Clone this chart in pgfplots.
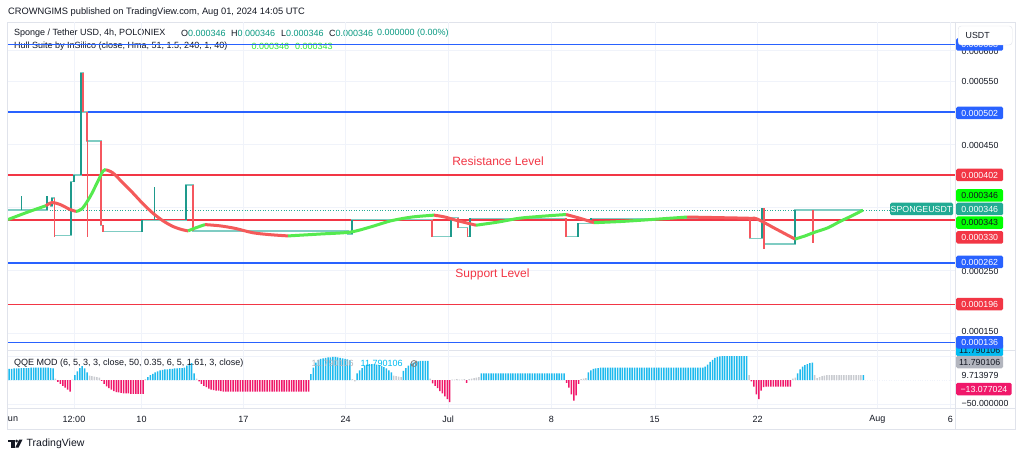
\documentclass[border=0pt]{standalone}
\usepackage{pgfplots}
\pgfplotsset{compat=1.18}
\usepackage{fontspec}
\setmainfont{Liberation Sans}

\definecolor{tvtext}{HTML}{131722}
\definecolor{tvgrid}{HTML}{F0F3FA}
\definecolor{tvframe}{HTML}{E0E3EB}
\definecolor{tvblue}{HTML}{2962FF}
\definecolor{tvred}{HTML}{F23645}
\definecolor{tvteal}{HTML}{22AB94}
\definecolor{legval}{HTML}{089981}
\definecolor{steplight}{HTML}{7FCCC3}
\definecolor{stepdark}{HTML}{1E9A8C}
\definecolor{stepred}{HTML}{F5575F}
\definecolor{hullgreen}{HTML}{55EA4F}
\definecolor{hullred}{HTML}{F45A5A}
\definecolor{lime}{HTML}{00FF00}
\definecolor{limetext}{HTML}{33E633}
\definecolor{qqeblue}{HTML}{1FBAEE}
\definecolor{qqegray}{HTML}{C9CBD0}
\definecolor{qqered}{HTML}{F0186A}
\definecolor{qqecyan}{HTML}{00BCF2}
\definecolor{scalegray}{HTML}{B2B5BE}

\newcommand{\fs}[1]{\fontsize{#1}{#1}\selectfont}
% box on the price scale: y, fill, text colour, text
\newcommand{\pricebox}[4]{\node[fill=#2, text=#3, inner sep=0pt, minimum width=47pt,
  minimum height=12.5pt, rounded corners=1.5pt, anchor=west, font=\fs{8.8}] at (956,#1) {#4};}
\newcommand{\pricetext}[2]{\node[text=tvtext, inner sep=0pt, anchor=west, font=\fs{8.8}] at (961.5,#1) {#2};}

\pgfplotsset{
  tvpane/.style={
    scale only axis, anchor=south west,
    axis line style={draw=none}, major tick length=0pt,
    xticklabels={}, yticklabels={}, scaled ticks=false,
    tick label style={inner sep=0pt},
    grid=major, major grid style={tvgrid, line width=0.9pt},
    clip=true,
  },
  level/.style={#1, line width=1.6pt},
}

\begin{document}
\begin{tikzpicture}[x=1pt,y=1pt]
\path[use as bounding box] (0,0) rectangle (1024,458);
\fill[white] (0,0) rectangle (1024,458);

% header
\node[anchor=west, inner sep=0pt, text=tvtext, font=\fs{9.3}] at (8,446) {CROWNGIMS published on TradingView.com, Aug 01, 2024 14:05 UTC};

% frame
\draw[tvframe, line width=0.8pt] (7.5,436) rectangle (1015,28.5);
\draw[tvframe, line width=0.8pt] (955.5,436) -- (955.5,28.5);
\draw[tvframe, line width=0.8pt] (7.5,108) -- (1015,108);
\draw[tvframe, line width=0.8pt] (7.5,50) -- (1015,50);

% legend of the price pane
\begin{scope}[every node/.style={anchor=west, inner sep=0pt, text=tvtext, font=\fs{9}}]
\node at (14,424.5) {Sponge / Tether USD, 4h, POLONIEX};
\node at (181,424.5) {O\textcolor{legval}{0.000346}};
\node at (231,424.5) {H\textcolor{legval}{0.000346}};
\node at (281,424.5) {L\textcolor{legval}{0.000346}};
\node at (329,424.5) {C\textcolor{legval}{0.000346}};
\node at (377,424.5) {\textcolor{legval}{0.000000 (0.00\%)}};
\node at (14,411.5) {Hull Suite by InSilico (close, Hma, 51, 1.5, 240, 1, 40)};
\node at (251.5,411.5) {\textcolor{limetext}{0.000346}};
\node at (295,411.5) {\textcolor{limetext}{0.000343}};
\end{scope}

% price pane
\begin{axis}[tvpane, at={(8pt,108pt)}, width=947pt, height=328pt,
  xmin=8, xmax=955, ymin=0.0001238, ymax=0.0006448,
  xtick={74,141,243,345,448,551,655,757,877,950},
  ytick={0.00015,0.00025,0.00035,0.00045,0.00055,0.0006},
  unbounded coords=jump]
% horizontal levels
\addplot[level=tvblue] coordinates {(8,0.000609) (955,0.000609)};
\addplot[level=tvblue] coordinates {(8,0.000502) (955,0.000502)};
\addplot[level=tvblue] coordinates {(8,0.000262) (955,0.000262)};
\addplot[level=tvblue] coordinates {(8,0.000136) (955,0.000136)};
\addplot[level=tvred] coordinates {(8,0.000402) (955,0.000402)};
\addplot[level=tvred] coordinates {(8,0.000330) (955,0.000330)};
\addplot[level=tvred] coordinates {(8,0.000196) (955,0.000196)};
% last price
\addplot[tvteal, line width=0.6pt, dotted] coordinates {(8,0.000346) (890,0.000346)};
% price as steps
\addplot[const plot, steplight, line width=1.3pt] coordinates {
(8,0.000346) (47,0.000358) (50.5,0.000352) (52,0.000365) (54.5,0.000306)
(71,0.000391) (74,0.000402) (81,0.000564) (83,0.000502) (87,0.000456)
(101,0.000322) (103,0.000312) (142,0.000330) (186,0.000386) (193,0.000313)
(348,0.000308) (352,0.000331) (432,0.000304) (451,0.000334) (458,0.000318)
(467.5,0.000304) (470,0.000333) (566,0.000304) (578,0.000325) (591,0.000333)
(750,0.000301) (762,0.000349) (764,0.000292) (795,0.000346) (863,0.000346)};
% thin wicks
\addplot[stepdark, line width=0.6pt] coordinates {
(21,0.000346) (21,0.000368) (21,nan) (154,0.000330) (154,0.000383)};
\addplot[stepred, line width=0.6pt] coordinates {(87,0.000502) (87,0.000304)};
% rising moves
\addplot[stepdark, line width=1.8pt] coordinates {
(47,0.000346) (47,0.000368) (47,nan)
(52,0.000352) (52,0.000365) (52,nan)
(71,0.000306) (71,0.000391) (71,nan)
(74,0.000391) (74,0.000402) (74,nan)
(81,0.000402) (81,0.000564) (81,nan)
(142,0.000312) (142,0.000330) (142,nan)
(186,0.000330) (186,0.000386) (186,nan)
(352,0.000308) (352,0.000331) (352,nan)
(451,0.000304) (451,0.000334) (451,nan)
(470,0.000304) (470,0.000333) (470,nan)
(578,0.000304) (578,0.000325) (578,nan)
(591,0.000325) (591,0.000333) (591,nan)
(762,0.000301) (762,0.000349) (762,nan)
(795,0.000292) (795,0.000346)};
% falling moves
\addplot[stepred, line width=1.8pt] coordinates {
(50.5,0.000358) (50.5,0.000352) (50.5,nan)
(54.5,0.000365) (54.5,0.000304) (54.5,nan)
(83,0.000564) (83,0.000502) (83,nan)
(87,0.000502) (87,0.000456) (87,nan)
(101,0.000456) (101,0.000322) (101,nan)
(103,0.000322) (103,0.000312) (103,nan)
(193,0.000386) (193,0.000313) (193,nan)
(348,0.000313) (348,0.000308) (348,nan)
(432,0.000331) (432,0.000304) (432,nan)
(458,0.000334) (458,0.000318) (458,nan)
(467.5,0.000318) (467.5,0.000304) (467.5,nan)
(566,0.000333) (566,0.000304) (566,nan)
(750,0.000333) (750,0.000301) (750,nan)
(764,0.000349) (764,0.000285) (764,nan)
(813,0.000346) (813,0.000293)};
% Hull suite
\pgfplotsset{hullg/.style={hullgreen, line width=3pt, smooth, tension=0.5},
             hullr/.style={hullred, line width=3pt, smooth, tension=0.5}}
\addplot[hullg] coordinates {(8,0.000331) (28,0.000343) (46,0.000353)};
\addplot[hullr] coordinates {(46,0.000353) (52,0.000358) (60,0.000355) (70,0.000347) (76,0.000344)};
\addplot[hullg] coordinates {(76,0.000344) (82,0.000348) (90,0.000367) (97,0.000389) (103,0.000408) (106,0.000410)};
\addplot[hullr] coordinates {(106,0.000410) (113,0.000405) (123,0.000389) (133,0.000373) (143,0.000356)
  (153,0.000341) (163,0.000329) (173,0.000320) (182,0.000315) (188,0.000313)};
\addplot[hullg] coordinates {(188,0.000313) (196,0.000318) (205,0.000323)};
\addplot[hullr] coordinates {(205,0.000323) (220,0.000321) (235,0.000317) (253,0.000310) (270,0.000307) (288,0.000305)};
\addplot[hullg] coordinates {(288,0.000305) (320,0.000308) (350,0.000311) (370,0.000319) (391,0.000329) (412,0.000335) (434,0.000338)};
\addplot[hullr] coordinates {(434,0.000338) (445,0.000335) (458,0.000329) (476,0.000322)};
\addplot[hullg] coordinates {(476,0.000322) (498,0.000327) (519,0.000333) (540,0.000336) (566,0.000339)};
\addplot[hullr] coordinates {(566,0.000339) (580,0.000333) (594,0.000326)};
\addplot[hullg] coordinates {(594,0.000326) (622,0.000328) (651,0.000331) (687,0.000335)};
\addplot[hullr] coordinates {(687,0.000335) (720,0.000334) (750,0.000333) (757,0.000332) (776,0.000316) (795,0.000300)};
\addplot[hullg] coordinates {(795,0.000300) (805,0.000305) (815,0.000311) (828,0.000318) (840,0.000328) (852,0.000337) (863,0.000346)};
\end{axis}

\node[text=tvred, font=\fs{12}] at (498,297) {Resistance Level};
\node[text=tvred, font=\fs{12}] at (492.5,184) {Support Level};

% QQE MOD pane (x = bar number)
\begin{axis}[tvpane, at={(8pt,50pt)}, width=947pt, height=58pt,
  xmin=-0.5, xmax=388.65, ymin=-58.3, ymax=62.5,
  xtick={26.6,54.15,96.07,137.98,180.31,222.63,265.37,307.28,356.6,386.6},
  ytick={-50,50},
  extra y ticks={0}, extra y tick labels={},
  extra y tick style={grid style={qqegray, dotted, line width=0.5pt}}]
\addplot[ybar, bar width=1.5pt, bar shift=0pt, fill=qqeblue, draw=none] coordinates {
(0,23)(1,23)(2,24)(3,24)(4,24)(5,25)(6,25)(7,25)(8,25)(9,26)(10,26)(11,26)(12,26)(13,26)(14,26)(15,26)(16,26)(17,25)(18,24)
(27,10)(28,18)(29,25)(30,29)(31,24)(32,16)
(57,6)(58,10)(59,13)(60,16)(61,18)(62,20)(63,21)(64,22)(65,22)(66,23)(67,23)(68,24)(69,24)(70,25)(71,25)(72,26)(73,30)(74,34)(75,35)(76,14)
(124,12)(125,26)(126,36)(127,42)(128,44)(129,45)(130,46)(131,47)(132,47)(133,48)(134,48)(135,47)(136,46)(137,45)(138,44)(139,43)(140,41)
(143,14)(144,20)(145,25)(146,29)(147,32)(148,33)(149,33)(150,33)(151,32)(152,31)(153,29)(154,27)(155,24)(156,20)(157,16)
(162,19)(163,25)(164,30)(165,34)(166,36)(167,38)(168,39)(169,40)(170,40)(171,40)(172,40)
(194,14)(195,14)(196,14)(197,14)(198,14)(199,14)(200,14)(201,14)(202,14)(203,14)(204,14)(205,14)
(206,14)(207,14)(208,14)(209,14)(210,14)(211,14)(212,14)(213,14)(214,14)(215,14)(216,14)(217,14)
(218,14)(219,14)(220,14)(221,14)(222,14)(223,14)(224,14)(225,14)(226,14)(227,14)(228,14)
(238,16)(239,20)(240,23)(241,24)(242,25)(243,26)(244,26)(245,26)(246,26)(247,26)(248,26)(249,26)
(250,26)(251,26)(252,26)(253,26)(254,26)(255,26)(256,26)(257,26)(258,26)(259,26)(260,26)(261,26)
(262,26)(263,26)(264,26)(265,26)(266,26)(267,26)(268,26)(269,26)(270,26)(271,26)(272,26)(273,26)
(274,26)(275,26)(276,26)(277,26)(278,26)(279,26)(280,26)(281,26)(282,26)(283,26)(284,26)(285,26)
(286,28)(287,32)(288,38)(289,42)(290,46)(291,48)(292,49)(293,50)(294,50)(295,50)(296,50)(297,50)
(298,50)(299,50)(300,50)(301,50)(302,50)(303,50)
(324,14)(325,22)(326,28)(327,31)(328,33)(329,35)(330,36)
(351,10)};
\addplot[ybar, bar width=1.5pt, bar shift=0pt, fill=qqegray, draw=none] coordinates {
(19,3)(26,1)(33,9)(34,8)(35,7)(36,6)(37,5)(56,2)(77,3)(141,2)(142,-3)
(158,9)(159,8)(160,7)(161,6)(173,3)(182,1)(183,1)(184,2)(185,1)(186,1)(187,2)
(189,2)(190,3)(191,4)(192,5)(193,6)(235,2)(236,3)(237,4)(304,10)(322,3)(323,5)
(331,10)(332,4)(333,6)(334,8)(335,9)(336,10)(337,10)(338,10)(339,10)(340,10)(341,10)
(342,10)(343,10)(344,10)(345,10)(346,10)(347,10)(348,10)(349,10)(350,10)};
\addplot[ybar, bar width=1.5pt, bar shift=0pt, fill=qqered, draw=none] coordinates {
(20,-4)(21,-8)(22,-12)(23,-16)(24,-20)(25,-24)
(38,-2)(39,-8)(40,-13)(41,-17)(42,-20)(43,-23)(44,-25)(45,-26)(46,-27)(47,-28)(48,-28)(49,-28)
(50,-29)(51,-29)(52,-29)(53,-29)(54,-29)(55,-29)
(78,-3)(79,-8)(80,-12)(81,-15)(82,-18)(83,-20)(84,-21)(85,-22)(86,-22)(87,-23)
(88,-24)(89,-24)(90,-24)(91,-24)(92,-24)(93,-24)(94,-24)(95,-24)(96,-24)(97,-24)(98,-24)(99,-24)
(100,-24)(101,-24)(102,-24)(103,-24)(104,-24)(105,-24)(106,-24)(107,-24)(108,-24)(109,-24)(110,-24)(111,-24)
(112,-24)(113,-24)(114,-24)(115,-24)(116,-24)(117,-24)(118,-24)(119,-24)(120,-24)(121,-24)(122,-24)(123,-24)
(174,-7)(175,-12)(176,-17)(177,-23)(178,-28)(179,-34)(180,-40)(181,-46)
(188,-6)
(229,-6)(230,-16)(231,-30)(232,-43)(233,-32)(234,-8)
(305,-3)(306,-14)(307,-30)(308,-40)(309,-22)(310,-15)(311,-14)(312,-14)(313,-14)(314,-14)(315,-14)
(316,-14)(317,-14)(318,-14)(319,-14)(320,-14)(321,-14)};
\end{axis}

% legend of the QQE pane
\node[anchor=west, inner sep=0pt, text=tvtext, font=\fs{9}] at (14,94.5) {QQE MOD (6, 5, 3, 3, close, 50, 0.35, 6, 5, 1.61, 3, close)};
\node[anchor=west, inner sep=0pt, text=scalegray, font=\fs{9}] at (311.5,94.5) {11.790106};
\node[anchor=west, inner sep=0pt, text=qqecyan, font=\fs{9}] at (360.5,94.5) {11.790106};
\draw[gray, line width=0.8pt] (414,94.5) circle (3);
\draw[gray, line width=0.8pt] (411.5,92) -- (416.5,97);

% price scale
\pricetext{406.5}{0.000600}
\pricebox{413.5}{tvblue}{white}{0.000608}
\node[draw=tvframe, fill=white, rounded corners=3pt, minimum width=54pt, minimum height=19pt,
  anchor=west, inner sep=0pt] at (958,422.5) {};
\node[anchor=west, inner sep=0pt, text=tvtext, font=\fs{8.8}] at (965.5,423) {USDT};
\pricetext{376.3}{0.000550}
\pricebox{345}{tvblue}{white}{0.000502}
\pricetext{313}{0.000450}
\pricebox{283}{tvred}{white}{0.000402}
\pricebox{262.5}{lime}{tvtext}{0.000346}
\pricebox{249}{tvteal}{white}{0.000346}
\pricebox{235.3}{lime}{tvtext}{0.000343}
\pricebox{220.7}{tvred}{white}{0.000330}
\pricetext{187}{0.000250}
\pricebox{196}{tvblue}{white}{0.000262}
\pricebox{154}{tvred}{white}{0.000196}
\pricetext{126.5}{0.000150}
\pricebox{108}{qqecyan}{tvtext}{11.790106}
\pricebox{115.7}{tvblue}{white}{0.000136}
\pricebox{96}{scalegray}{tvtext}{11.790106}
\pricetext{82.7}{9.713979}
\node[fill=qqered, text=white, inner sep=0pt, minimum width=55.5pt, minimum height=12.5pt,
  rounded corners=1.5pt, anchor=west, font=\fs{8.8}] at (956,69) {−13.077024};
\pricetext{54.7}{−50.000000}
\node[fill=tvteal, text=white, inner sep=0pt, minimum width=63pt, minimum height=12.5pt,
  rounded corners=1.5pt, font=\fs{8.8}] at (921.5,249) {SPONGEUSDT};

% time scale
\begin{scope}[every node/.style={inner sep=0pt, text=tvtext, font=\fs{9}}]
\node[anchor=west] at (7.8,38.5) {un};
\node at (74,38.5) {12:00};
\node at (141.5,38.5) {10};
\node at (243.3,38.5) {17};
\node at (345.5,38.5) {24};
\node at (448,38.5) {Jul};
\node at (551.3,38.5) {8};
\node at (654.7,38.5) {15};
\node at (757.7,38.5) {22};
\node at (877.3,38.5) {Aug};
\node at (950.3,38.5) {6};
\end{scope}

% TradingView logo
\fill[tvtext] (8,18.5) rectangle (14.5,15.8);
\fill[tvtext] (11.2,15.8) rectangle (14.5,10.5);
\fill[tvtext] (16.6,17) circle (1.5);
\fill[tvtext] (19.2,18.5) -- (22.5,18.5) -- (18.6,10.5) -- (15.3,10.5) -- cycle;
\node[anchor=west, inner sep=0pt, text=tvtext, font=\fs{10.5}] at (26.5,14.5) {TradingView};
\end{tikzpicture}
\end{document}
